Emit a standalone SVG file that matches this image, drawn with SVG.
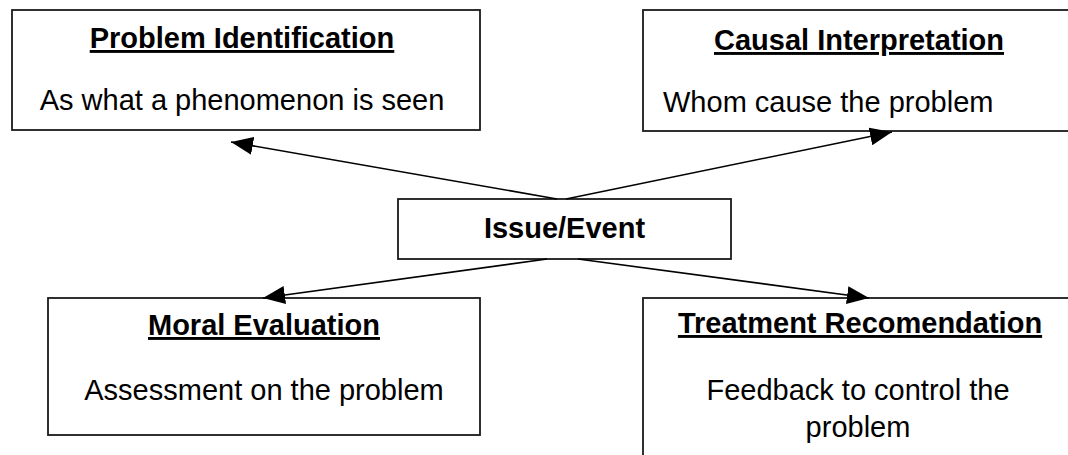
<svg xmlns="http://www.w3.org/2000/svg" width="1068" height="455" viewBox="0 0 1068 455">
  <style>
    .box { fill: #ffffff; stroke: #1a1a1a; stroke-width: 1.8; }
    .title { font-family: "Liberation Sans", Arial, sans-serif; font-size: 29px; font-weight: bold; fill: #000; text-decoration: underline; }
    .body { font-family: "Liberation Sans", Arial, sans-serif; font-size: 29px; fill: #000; }
    .center { font-family: "Liberation Sans", Arial, sans-serif; font-size: 29px; font-weight: bold; fill: #000; }
    .conn { stroke: #000; stroke-width: 1.6; fill: none; marker-end: url(#arrow); }
  </style>
  <defs>
    <marker id="arrow" markerUnits="userSpaceOnUse" markerWidth="22" markerHeight="18" refX="22" refY="9" orient="auto">
      <path d="M0,0 L22,9 L0,18 Z" fill="#000"/>
    </marker>
  </defs>
  <rect width="1068" height="455" fill="#ffffff"/>

  <g id="problem-identification">
    <rect class="box" x="12" y="10" width="468" height="120"/>
    <text class="title" x="242" y="48" text-anchor="middle">Problem Identification</text>
    <text class="body" x="242" y="110" text-anchor="middle">As what a phenomenon is seen</text>
  </g>

  <g id="causal-interpretation">
    <rect class="box" x="643" y="10" width="440" height="121"/>
    <text class="title" x="859" y="50" text-anchor="middle">Causal Interpretation</text>
    <text class="body" x="663" y="112">Whom cause the problem</text>
  </g>

  <g id="issue-event">
    <rect class="box" x="398" y="199" width="333" height="60"/>
    <text class="center" x="564.5" y="238" text-anchor="middle">Issue/Event</text>
  </g>

  <g id="moral-evaluation">
    <rect class="box" x="48" y="298" width="432" height="137"/>
    <text class="title" x="264" y="335" text-anchor="middle">Moral Evaluation</text>
    <text class="body" x="264" y="400" text-anchor="middle">Assessment on the problem</text>
  </g>

  <g id="treatment-recomendation">
    <rect class="box" x="643" y="298" width="440" height="180"/>
    <text class="title" x="860" y="333" text-anchor="middle">Treatment Recomendation</text>
    <text class="body" x="858" y="400" text-anchor="middle">Feedback to control the</text>
    <text class="body" x="858" y="437" text-anchor="middle">problem</text>
  </g>

  <g id="connectors">
    <line class="conn" x1="557" y1="199" x2="231" y2="142"/>
    <line class="conn" x1="566" y1="199" x2="892" y2="132"/>
    <line class="conn" x1="547" y1="259" x2="263" y2="298"/>
    <line class="conn" x1="578" y1="259" x2="869" y2="298"/>
  </g>
</svg>
